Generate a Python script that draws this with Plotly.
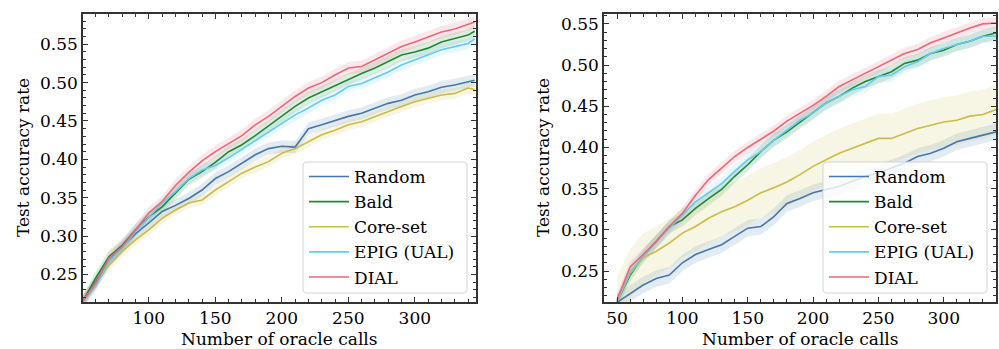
import plotly.graph_objects as go

# ---------------- data ----------------
X_LEFT = [50, 60, 70, 80, 90, 100, 110, 120, 130, 140, 150, 160, 170, 180, 190, 200,
          210, 220, 230, 240, 250, 260, 270, 280, 290, 300, 310, 320, 330, 340, 345]
RANDOM_L = [0.214, 0.240, 0.267, 0.286, 0.303, 0.317, 0.332, 0.340, 0.349, 0.360, 0.375, 0.384,
            0.395, 0.406, 0.414, 0.417, 0.416, 0.440, 0.445, 0.451, 0.456, 0.460, 0.467, 0.473,
            0.477, 0.484, 0.488, 0.494, 0.497, 0.501, 0.503]
BALD_L = [0.214, 0.245, 0.273, 0.288, 0.308, 0.325, 0.338, 0.356, 0.374, 0.384, 0.396, 0.410,
          0.419, 0.431, 0.444, 0.456, 0.469, 0.480, 0.488, 0.497, 0.505, 0.512, 0.519, 0.527,
          0.536, 0.540, 0.545, 0.553, 0.558, 0.562, 0.567]
CORESET_L = [0.214, 0.238, 0.262, 0.280, 0.295, 0.308, 0.323, 0.334, 0.343, 0.347, 0.360, 0.371,
             0.382, 0.390, 0.397, 0.408, 0.414, 0.423, 0.432, 0.438, 0.445, 0.449, 0.456, 0.462,
             0.469, 0.475, 0.480, 0.484, 0.486, 0.493, 0.491]
EPIG_L = [0.214, 0.234, 0.267, 0.284, 0.306, 0.325, 0.343, 0.358, 0.375, 0.386, 0.392, 0.402,
          0.413, 0.424, 0.436, 0.447, 0.458, 0.467, 0.477, 0.484, 0.495, 0.499, 0.506, 0.514,
          0.523, 0.530, 0.536, 0.543, 0.547, 0.551, 0.557]
DIAL_L = [0.214, 0.238, 0.271, 0.286, 0.308, 0.330, 0.345, 0.366, 0.383, 0.398, 0.410, 0.421,
          0.431, 0.445, 0.456, 0.469, 0.482, 0.493, 0.500, 0.510, 0.519, 0.521, 0.530, 0.538,
          0.547, 0.553, 0.560, 0.566, 0.570, 0.576, 0.579]
STD_L = {"Random": 0.008, "Bald": 0.008, "Core-set": 0.007, "EPIG (UAL)": 0.007, "DIAL": 0.008}

X_RIGHT = [50, 60, 70, 80, 90, 100, 110, 120, 130, 140, 150, 160, 170, 180, 190, 200,
           210, 220, 230, 240, 250, 260, 270, 280, 290, 300, 310, 320, 330, 340]
RANDOM_R = [0.212, 0.223, 0.233, 0.241, 0.245, 0.260, 0.270, 0.276, 0.282, 0.292, 0.302, 0.304,
            0.316, 0.332, 0.338, 0.345, 0.349, 0.353, 0.359, 0.365, 0.369, 0.375, 0.381, 0.389,
            0.393, 0.399, 0.407, 0.411, 0.415, 0.419]
BALD_R = [0.213, 0.245, 0.268, 0.286, 0.304, 0.312, 0.326, 0.338, 0.349, 0.365, 0.379, 0.395,
          0.409, 0.419, 0.431, 0.442, 0.454, 0.462, 0.472, 0.480, 0.486, 0.492, 0.502, 0.506,
          0.514, 0.518, 0.525, 0.529, 0.535, 0.539]
CORESET_R = [0.213, 0.247, 0.266, 0.274, 0.284, 0.296, 0.304, 0.314, 0.322, 0.328, 0.336, 0.345,
             0.351, 0.358, 0.367, 0.377, 0.385, 0.393, 0.399, 0.405, 0.411, 0.411, 0.417, 0.423,
             0.427, 0.431, 0.433, 0.438, 0.440, 0.446]
EPIG_R = [0.213, 0.249, 0.268, 0.286, 0.302, 0.318, 0.334, 0.345, 0.356, 0.371, 0.385, 0.395,
          0.409, 0.421, 0.433, 0.442, 0.454, 0.462, 0.470, 0.474, 0.486, 0.488, 0.498, 0.504,
          0.514, 0.520, 0.525, 0.529, 0.535, 0.535]
DIAL_R = [0.215, 0.255, 0.270, 0.286, 0.304, 0.320, 0.342, 0.361, 0.375, 0.389, 0.400, 0.410,
          0.420, 0.432, 0.441, 0.451, 0.462, 0.474, 0.482, 0.490, 0.498, 0.506, 0.514, 0.519,
          0.527, 0.533, 0.539, 0.545, 0.550, 0.551]
STD_R = {"Random": 0.010, "Bald": 0.008, "Core-set": 0.030, "EPIG (UAL)": 0.008, "DIAL": 0.007}

NAMES = ["Random", "Bald", "Core-set", "EPIG (UAL)", "DIAL"]
COLORS = {"Random": "#4477AA", "Bald": "#228833", "Core-set": "#CCBB44",
          "EPIG (UAL)": "#66CCEE", "DIAL": "#EE6677"}
Y_TICKS = [0.25, 0.30, 0.35, 0.40, 0.45, 0.50, 0.55]

# ---------------- layout constants (pixels) ----------------
W, H = 999, 349
MT, MB = 14, 47
PLOT_H = H - MT - MB
LEFT_DOM = [83 / W, 476 / W]
RIGHT_DOM = [604 / W, 996 / W]
FONT = "DejaVu Serif"
FS = 17


def hex_rgba(h, a):
    h = h.lstrip("#")
    return "rgba(%d,%d,%d,%.2f)" % (int(h[0:2], 16), int(h[2:4], 16), int(h[4:6], 16), a)


fig = go.Figure()

panels = [
    ("x", "y", "legend", X_LEFT,
     {"Random": RANDOM_L, "Bald": BALD_L, "Core-set": CORESET_L, "EPIG (UAL)": EPIG_L, "DIAL": DIAL_L},
     STD_L),
    ("x2", "y2", "legend2", X_RIGHT,
     {"Random": RANDOM_R, "Bald": BALD_R, "Core-set": CORESET_R, "EPIG (UAL)": EPIG_R, "DIAL": DIAL_R},
     STD_R),
]

for xa, ya, leg, xs, series, stds in panels:
    for n in NAMES:
        m = series[n]
        s = stds[n]
        up = [v + s for v in m]
        lo = [v - s for v in m]
        fig.add_trace(go.Scatter(x=xs + xs[::-1], y=up + lo[::-1], xaxis=xa, yaxis=ya,
                                 fill="toself", fillcolor=hex_rgba(COLORS[n], 0.15),
                                 line=dict(width=0), mode="lines", showlegend=False,
                                 hoverinfo="skip"))
    for n in NAMES:
        fig.add_trace(go.Scatter(x=xs, y=series[n], xaxis=xa, yaxis=ya, mode="lines",
                                 name=n, legend=leg,
                                 line=dict(color=COLORS[n], width=1.6)))

axis_common = dict(showline=True, linecolor="#333333", linewidth=1.5, mirror="allticks",
                   ticks="inside", ticklen=5, tickwidth=1.1, tickcolor="#333333",
                   showgrid=False, zeroline=False,
                   tickfont=dict(family=FONT, size=FS, color="black"))

fig.update_layout(
    width=W, height=H,
    margin=dict(l=0, r=0, t=MT, b=MB),
    paper_bgcolor="white", plot_bgcolor="white",
    font=dict(family=FONT, size=FS, color="black"),
    xaxis=dict(domain=LEFT_DOM, anchor="y", range=[50.5, 346], tickvals=[100, 150, 200, 250, 300],
               minor=dict(dtick=10, tick0=0), **axis_common),
    yaxis=dict(domain=[0, 1], anchor="x", range=[0.214, 0.5895], tickvals=Y_TICKS,
               tickformat=".2f", minor=dict(dtick=0.01, tick0=0), **axis_common),
    xaxis2=dict(domain=RIGHT_DOM, anchor="y2", range=[40, 340], tickvals=[50, 100, 150, 200, 250, 300],
                minor=dict(dtick=10, tick0=0), **axis_common),
    yaxis2=dict(domain=[0, 1], anchor="x2", range=[0.2124, 0.562], tickvals=Y_TICKS,
                tickformat=".2f", minor=dict(dtick=0.01, tick0=0), **axis_common),
    showlegend=True,
)
for ax in ["xaxis", "yaxis", "xaxis2", "yaxis2"]:
    fig.layout[ax].minor.update(ticks="inside", ticklen=3, tickwidth=1, tickcolor="#333333",
                                showgrid=False)


def px_to_paper(px, py):
    return px / W, (H - MB - py) / PLOT_H


leg_style = dict(bgcolor="rgba(0,0,0,0)", borderwidth=0,
                 font=dict(family=FONT, size=FS, color="black"),
                 xanchor="left", yanchor="top", tracegroupgap=0, itemwidth=40)
lx, ly = px_to_paper(304, 159)
rx, ry = px_to_paper(824, 159)
fig.update_layout(legend=dict(x=lx, y=ly, **leg_style), legend2=dict(x=rx, y=ry, **leg_style))


def rounded_box(x0, y0, x1, y1, r=4):
    def P(px, py):
        a, b = px_to_paper(px, py)
        return "%.5f,%.5f" % (a, b)
    return ("M %s L %s Q %s %s L %s Q %s %s L %s Q %s %s L %s Q %s %s Z" % (
        P(x0 + r, y0), P(x1 - r, y0), P(x1, y0), P(x1, y0 + r), P(x1, y1 - r), P(x1, y1),
        P(x1 - r, y1), P(x0 + r, y1), P(x0, y1), P(x0, y1 - r), P(x0, y0 + r), P(x0, y0),
        P(x0 + r, y0)))


for (x0, x1) in [(303, 467), (823, 987)]:
    fig.add_shape(type="path", path=rounded_box(x0, 162, x1, 293), xref="paper", yref="paper",
                  fillcolor="rgba(255,255,255,0.8)", line=dict(color="#d4d4d4", width=1),
                  layer="above")


def ann(text, px, py, angle=0):
    a, b = px_to_paper(px, py)
    fig.add_annotation(text=text, x=a, y=b, xref="paper", yref="paper", showarrow=False,
                       textangle=angle, xanchor="center", yanchor="middle",
                       font=dict(family=FONT, size=FS, color="black"))


ann("Number of oracle calls", 279.5, 339)
ann("Number of oracle calls", 800, 339)
ann("Test accuracy rate", 23, 158, -90)
ann("Test accuracy rate", 543, 158, -90)

fig.write_html("out.html")
